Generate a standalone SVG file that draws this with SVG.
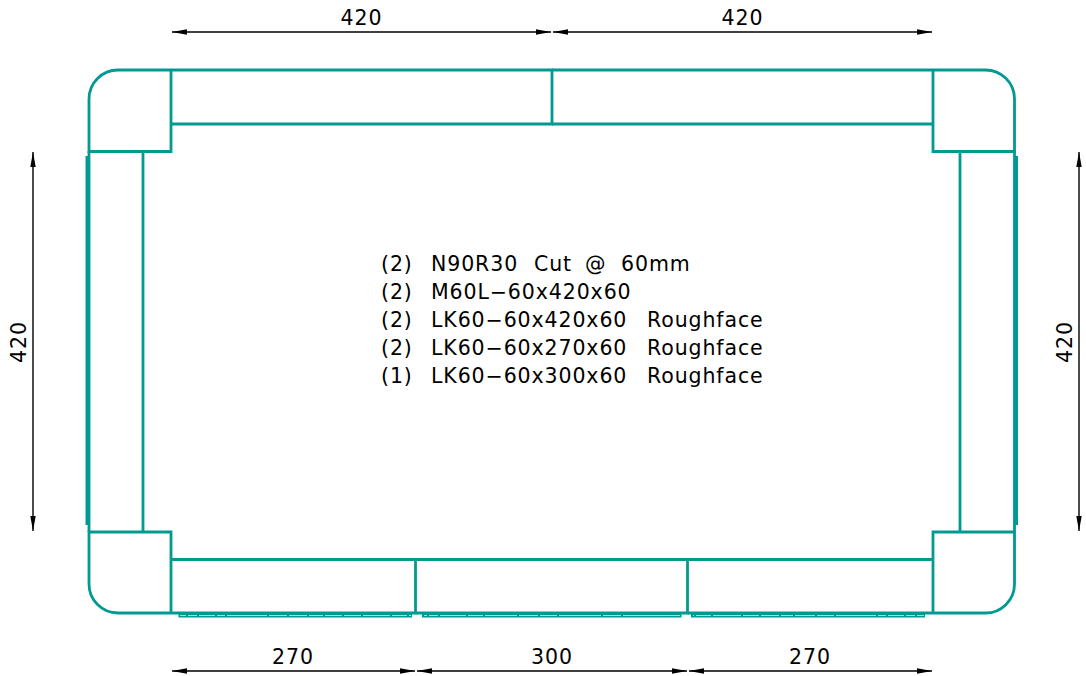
<svg xmlns="http://www.w3.org/2000/svg" width="1086" height="676" viewBox="0 0 1086 676">
<style>
.e{fill:none;stroke:#009a93;stroke-width:2.8}
.b{fill:#009a93}
.t{fill:none;stroke:#a8dcd9;stroke-width:1}
.d{stroke:#000;stroke-width:1.4;fill:none;marker-start:url(#a);marker-end:url(#a)}
text{font-family:"DejaVu Sans",sans-serif;font-size:20.500px;letter-spacing:.9px;fill:#000;white-space:pre}
</style>
<defs><marker id="a" markerUnits="userSpaceOnUse" markerWidth="16" markerHeight="8" refX="15" refY="4" orient="auto-start-reverse"><path d="M0 1.300L15 4L0 6.700z" fill="#000"/></marker></defs>
<rect width="1086" height="676" fill="#fff"/>
<g id="corner-tl"><path class="e" d="M171 70H118A29 29 0 0 0 89 99V151.500H171V70"/></g>
<g id="corner-tr"><path class="e" d="M933 70H985A29 29 0 0 1 1014.500 99V151.500H933V70"/></g>
<g id="corner-bl"><path class="e" d="M171 613H118A29 29 0 0 1 89 584V532H171V613"/></g>
<g id="corner-br"><path class="e" d="M933 613H985A29 29 0 0 0 1014.500 584V532H933V613"/></g>
<g id="top-left"><path class="e" d="M171 70H552V124H171"/></g>
<g id="top-right"><path class="e" d="M552 70H933M552 124H933"/></g>
<g id="left"><path class="e" d="M143 151V532M89 151V532"/><rect class="b" x="85.500" y="156" width="3.500" height="369"/></g>
<g id="right"><path class="e" d="M960 151V532M1014.500 151V532"/><rect class="b" x="1014" y="156" width="4" height="369"/></g>
<g id="bottom-left"><path class="e" d="M171 559.500H415.500V613H171"/><rect class="b" x="178.500" y="613" width="233.500" height="4.500"/><path class="t" d="M180 615.500H186M188 615.500H197M199 615.500H215M217 615.500H225M227 615.500H267M269 615.500H287M289 615.500H307M309 615.500H323M325 615.500H342M344 615.500H361M363 615.500H390M392 615.500H407M409 615.500H411"/></g>
<g id="bottom-mid"><path class="e" d="M415.500 559.500H687.500V613H415.500"/><rect class="b" x="422" y="613" width="259.500" height="4.500"/><path class="t" d="M424 615.500H427M429 615.500H438M440 615.500H466M468 615.500H483M485 615.500H517M519 615.500H538M540 615.500H557M559 615.500H601M603 615.500H621M623 615.500H680"/></g>
<g id="bottom-right"><path class="e" d="M687.500 559.500H933M687.500 613H933"/><rect class="b" x="691" y="613" width="234" height="4.500"/><path class="t" d="M693 615.500H694M696 615.500H711M713 615.500H741M743 615.500H759M761 615.500H779M781 615.500H793M795 615.500H815M817 615.500H834M836 615.500H876M878 615.500H886M888 615.500H904M906 615.500H915M917 615.500H924"/></g>
<g id="dimensions">
<path class="d" d="M172 32H551"/><path class="d" d="M553 32H932"/>
<path class="d" d="M172 671H415"/><path class="d" d="M417 671H687"/><path class="d" d="M689 671H932"/>
<path class="d" d="M33 152V531"/><path class="d" d="M1079 152V531"/>
</g>
<g id="labels">
<text x="361.500" y="25" text-anchor="middle">420</text>
<text x="742.500" y="25" text-anchor="middle">420</text>
<text x="293" y="664" text-anchor="middle">270</text>
<text x="552" y="664" text-anchor="middle">300</text>
<text x="810" y="664" text-anchor="middle">270</text>
<text transform="translate(26 342) rotate(-90)" text-anchor="middle">420</text>
<text transform="translate(1072 342) rotate(-90)" text-anchor="middle">420</text>
<text y="271"><tspan x="381">(2)</tspan> <tspan x="431">N90R30</tspan> <tspan x="534">Cut</tspan> <tspan x="585">@</tspan> <tspan x="621">60mm</tspan></text>
<text y="299"><tspan x="381">(2)</tspan> <tspan x="431">M60L−60x420x60</tspan></text>
<text y="327"><tspan x="381">(2)</tspan> <tspan x="431">LK60−60x420x60</tspan> <tspan x="647">Roughface</tspan></text>
<text y="355"><tspan x="381">(2)</tspan> <tspan x="431">LK60−60x270x60</tspan> <tspan x="647">Roughface</tspan></text>
<text y="383"><tspan x="381">(1)</tspan> <tspan x="431">LK60−60x300x60</tspan> <tspan x="647">Roughface</tspan></text>
</g>
</svg>
